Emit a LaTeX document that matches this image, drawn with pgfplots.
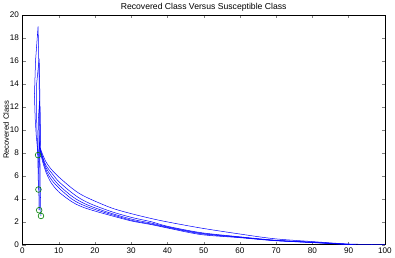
\documentclass[border=0pt]{standalone}
\usepackage{fontspec}
\setmainfont{Liberation Sans}
\usepackage{pgfplots}
\pgfplotsset{compat=1.18}
\begin{document}
\begin{tikzpicture}
\begin{axis}[
  scale only axis, width=355bp, height=225bp,
  xmin=0, xmax=100, ymin=0, ymax=20,
  xtick={0,10,...,100}, ytick={0,2,...,20},
  tick align=inside, major tick length=3bp,
  xtick pos=both, ytick pos=both,
  /pgf/number format/assume math mode=true,
  tick label style={font=\fontsize{8}{9}\selectfont},
  title={Recovered Class Versus Susceptible Class},
  title style={font=\fontsize{8.5}{9}\selectfont, yshift=-6bp},
  ylabel={Recovered Class},
  ylabel style={font=\fontsize{7.5}{8}\selectfont, yshift=-6bp},
  axis line style={black, line width=0.4pt},
]
\pgfplotsset{traj/.style={blue, line width=0.5pt, no markers}, tail/.style={blue, line width=0.5pt, no markers, smooth, tension=0.5}}
% spike parts
\addplot[traj] coordinates {(4.3,7.8)(3.8,9.5)(3.5,11)(3.3,13)(3.6,16)(4.3,19.0)(4.5,16)(4.7,12)(4.8,9.5)(4.8,8.5)};
\addplot[traj] coordinates {(4.4,4.8)(4.2,8)(3.9,11)(3.9,14)(4.6,16.2)(4.8,13)(4.9,10)(4.8,8.45)};
\addplot[traj] coordinates {(4.6,3.0)(4.5,6)(4.3,9)(4.4,11)(4.7,12.5)(4.9,11)(4.9,9)(4.8,8.4)};
\addplot[traj] coordinates {(4.6,3.0)(4.6,6)(4.7,9)(4.9,10.5)(4.9,9.5)(4.8,8.35)};
\addplot[traj] coordinates {(5.1,2.5)(4.9,5)(4.8,8)(4.9,9)(4.8,8.3)};
% tails
\addplot[tail] coordinates {(4.8,8.5)(5.5,7.9)(6.5,7.2)(7.9,6.58)(10,5.9)(13.5,4.95)(16,4.4)(19.2,3.9)(24.8,3.17)(30.4,2.67)(35.5,2.28)(40,1.98)(49.2,1.45)(59.5,0.95)(69.4,0.52)(80,0.27)(90,0.06)(100,0)};
\addplot[tail] coordinates {(4.8,8.45)(5.5,7.7)(6.5,6.9)(7.9,6.3)(10,5.5)(13.5,4.55)(16,4.0)(19.2,3.5)(24.8,2.85)(30.4,2.35)(35.5,2.0)(40,1.6)(49.2,1.05)(59.5,0.7)(69.4,0.4)(80,0.22)(90,0.03)(92,0)};
\addplot[tail] coordinates {(4.8,8.4)(5.5,7.6)(6.5,6.7)(7.9,6.0)(10,5.2)(13.5,4.25)(16,3.75)(19.2,3.3)(24.8,2.7)(30.4,2.2)(35.5,1.88)(40,1.55)(49.2,1.0)(59.5,0.67)(69.4,0.38)(80,0.2)(90,0.02)(91,0)};
\addplot[tail] coordinates {(4.8,8.35)(5.5,7.5)(6.5,6.5)(7.9,5.7)(10,4.95)(13.5,4.0)(16,3.55)(19.2,3.15)(24.8,2.6)(30.4,2.1)(35.5,1.8)(40,1.5)(49.2,0.95)(59.5,0.65)(69.4,0.37)(80,0.19)(90,0.02)(91,0)};
\addplot[tail] coordinates {(4.8,8.3)(5.5,7.3)(6.5,6.3)(7.9,5.4)(10,4.6)(13.5,3.76)(16,3.35)(19.2,3.0)(24.8,2.5)(30.4,2.04)(35.5,1.75)(40,1.45)(49.2,0.88)(59.5,0.62)(69.4,0.35)(80,0.18)(90,0.01)(91,0)};
\addplot[only marks, mark=o, mark size=2.8bp, draw={rgb,1:red,0;green,0.5;blue,0}, line width=0.6pt]
 coordinates {(4.3,7.8)(4.4,4.8)(4.6,3.0)(5.1,2.5)};
\end{axis}
\end{tikzpicture}
\end{document}
